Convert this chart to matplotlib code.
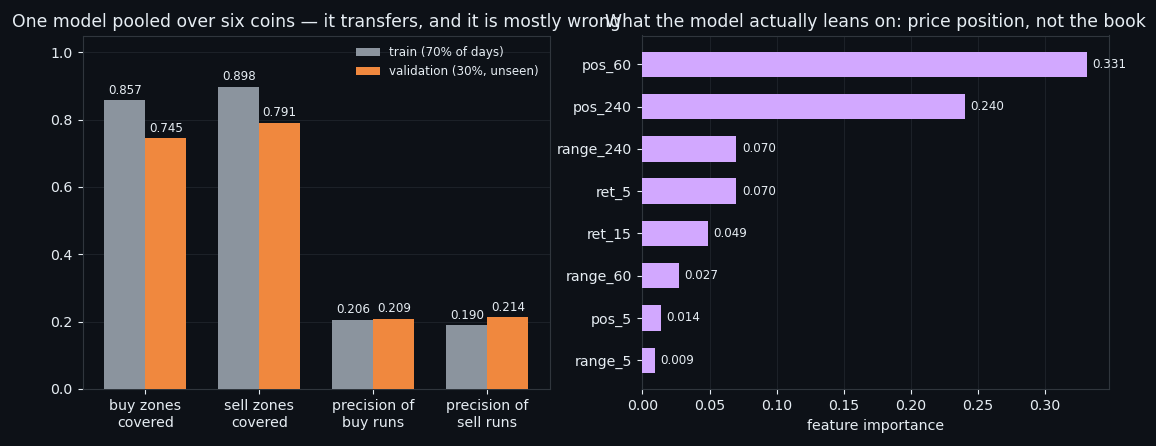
import matplotlib
matplotlib.use("Agg")
import matplotlib.pyplot as plt
import numpy as np

metrics = ["buy zones\ncovered", "sell zones\ncovered", "precision of\nbuy runs", "precision of\nsell runs"]
train_vals = [0.857, 0.898, 0.206, 0.190]
val_vals = [0.745, 0.791, 0.209, 0.214]
features = ["pos_60", "pos_240", "range_240", "ret_5", "ret_15", "range_60", "pos_5", "range_5"]
importances = [0.331, 0.240, 0.070, 0.070, 0.049, 0.027, 0.014, 0.009]

BG = "#0d1117"
TXT = "#e6edf3"
SPINE = "#30363d"
GRID = "#1c2128"
GRAY = "#8b949e"
ORANGE = "#f0883e"
PURPLE = "#d2a8ff"

S = 1.07
plt.rcParams.update({
    "figure.facecolor": BG, "axes.facecolor": BG, "savefig.facecolor": BG,
    "text.color": TXT, "axes.labelcolor": TXT, "xtick.color": TXT, "ytick.color": TXT,
    "axes.edgecolor": SPINE, "font.family": ["DejaVu Sans"],
    "xtick.major.size": 3.5 * S, "ytick.major.size": 3.5 * S,
    "xtick.major.pad": 3.5 * S, "ytick.major.pad": 3.5 * S,
})

fig, (ax1, ax2) = plt.subplots(1, 2, figsize=(11.56, 4.46), dpi=100)
fig.subplots_adjust(left=83/1156, right=1109/1156, top=1-35.5/446, bottom=1-389/446, wspace=0.199)

x = np.arange(len(metrics))
w = 0.36
b1 = ax1.bar(x - w/2, train_vals, w, color=GRAY, label="train (70% of days)", zorder=3)
b2 = ax1.bar(x + w/2, val_vals, w, color=ORANGE, label="validation (30%, unseen)", zorder=3)
for bars in (b1, b2):
    for r in bars:
        ax1.text(r.get_x() + r.get_width()/2, r.get_height() + 0.01, f"{r.get_height():.3f}",
                 ha="center", va="bottom", fontsize=8 * S, color=TXT)
ax1.set_xticks(x)
ax1.set_xticklabels(metrics, fontsize=9.5 * S)
ax1.set_ylim(0, 1.05)
ax1.tick_params(axis="y", labelsize=9.5 * S)
ax1.grid(axis="y", color=GRID, linewidth=0.8, zorder=0)
ax1.set_axisbelow(True)
leg = ax1.legend(loc="upper right", frameon=False, fontsize=8 * S)
for t in leg.get_texts():
    t.set_color(TXT)
ax1.set_title("One model pooled over six coins \u2014 it transfers, and it is mostly wrong",
              fontsize=12.4, color=TXT, pad=6 * S)

y = np.arange(len(features))
bars = ax2.barh(y, importances, height=0.6, color=PURPLE, zorder=3)
for r, v in zip(bars, importances):
    ax2.text(v + 0.004, r.get_y() + r.get_height()/2, f"{v:.3f}", va="center", ha="left",
             fontsize=8 * S, color=TXT)
ax2.set_yticks(y)
ax2.set_yticklabels(features, fontsize=9.5 * S)
ax2.invert_yaxis()
ax2.set_xlim(0, max(importances) * 1.05)
ax2.tick_params(axis="x", labelsize=9.5 * S)
ax2.set_xlabel("feature importance", fontsize=9.5 * S)
ax2.grid(axis="x", color=GRID, linewidth=0.8, zorder=0)
ax2.set_axisbelow(True)
ax2.set_title("What the model actually leans on: price position, not the book",
              fontsize=12.4, color=TXT, pad=6 * S)

fig.savefig("out.png", dpi=100)
